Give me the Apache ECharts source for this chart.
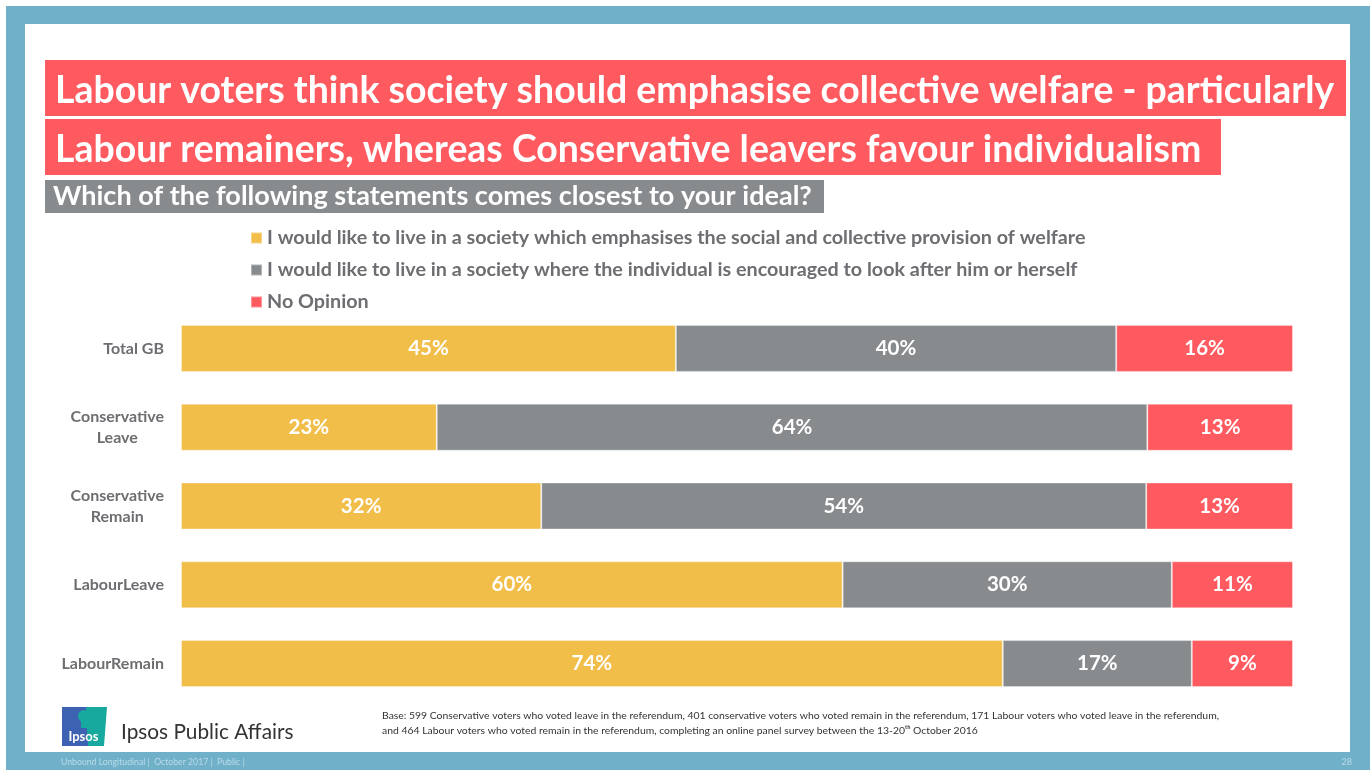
<!DOCTYPE html>
<html>
<head>
<meta charset="utf-8">
<title>Society: collective welfare vs individualism</title>
<script src="https://cdn.jsdelivr.net/npm/echarts@6/dist/echarts.min.js"></script>
<style>
  html, body { margin: 0; padding: 0; background: #ffffff; }
  #chart { width: 1370px; height: 770px; }
</style>
</head>
<body>
<div id="chart"></div>
<script>
// Voter groups (top to bottom)
const categories = ['Total GB', 'Conservative\nLeave', 'Conservative\nRemain', 'LabourLeave', 'LabourRemain'];

// Series names
const seriesNames = [
  'I would like to live in a society which emphasises the social and collective provision of welfare',
  'I would like to live in a society where the individual is encouraged to look after him or herself',
  'No Opinion'
];

// Shares of each group (%), unrounded
const welfare    = [44.5, 23.0, 32.4, 59.5, 73.9];
const individual = [39.6, 63.9, 54.4, 29.6, 17.0];
const noOpinion  = [15.9, 13.1, 13.2, 10.9, 9.1];

const titleLine1 = 'Labour voters think society should emphasise collective welfare - particularly';
const titleLine2 = 'Labour remainers, whereas Conservative leavers favour individualism';
const subtitle = 'Which of the following statements comes closest to your ideal?';
const baseNote = 'Base: 599 Conservative voters who voted leave in the referendum, 401 conservative voters who voted remain in the referendum, 171 Labour voters who voted leave in the referendum,\nand 464 Labour voters who voted remain in the referendum, completing an online panel survey between the 13-20\u1d57\u02b0 October 2016';
const footerNote = 'Unbound Longitudinal |  October 2017 |  Public |';

const FONT = 'Lato';
const COLORS = ['#F1BE4A', '#888B8D', '#FF5A5F'];
const FRAME = '#70B0C8';
const TEXT_GREY = '#6D6E71';

// size a line of text so that it spans the given width
function fitFont(text, weight, width) {
  const ctx = document.createElement('canvas').getContext('2d');
  ctx.font = weight + ' 100px ' + FONT;
  return 100 * width / ctx.measureText(text).width;
}
const titleSize = fitFont(titleLine1, 'bold', 1280);
const subSize = fitFont(subtitle, 'bold', 759);
const legendSize = fitFont(seriesNames[0], 'bold', 819);

const chart = echarts.init(document.getElementById('chart'), null, { renderer: 'canvas' });

function barSeries(name, data, color) {
  return {
    name: name,
    type: 'bar',
    stack: 'total',
    data: data,
    barWidth: 47,
    itemStyle: { color: color, borderColor: 'rgba(255,255,255,0.35)', borderWidth: 1 },
    label: {
      show: true,
      position: 'inside',
      color: '#ffffff',
      fontFamily: FONT,
      fontWeight: 'bold',
      fontSize: 20.5,
      formatter: p => Math.round(p.value) + '%'
    },
    emphasis: { disabled: true }
  };
}

const option = {
  backgroundColor: '#ffffff',
  animation: false,
  graphic: [
    // slide frame
    { type: 'rect', shape: { x: 6, y: 6, width: 1364, height: 764 }, style: { fill: FRAME }, z: -10 },
    { type: 'rect', shape: { x: 25, y: 24, width: 1325, height: 728 }, style: { fill: '#ffffff' }, z: -9 },
    // headline banners
    { type: 'rect', shape: { x: 45, y: 60, width: 1301, height: 56 }, style: { fill: '#FF5A5F' }, z: -5 },
    { type: 'rect', shape: { x: 45, y: 119, width: 1176, height: 56 }, style: { fill: '#FF5A5F' }, z: -5 },
    { type: 'rect', shape: { x: 45, y: 180, width: 779, height: 33 }, style: { fill: '#888B8D' }, z: -5 },
    { type: 'text', x: 55, y: 91, style: { text: titleLine1, fill: '#ffffff', font: 'bold ' + titleSize.toFixed(2) + 'px ' + FONT, textVerticalAlign: 'middle' } },
    { type: 'text', x: 55, y: 149.5, style: { text: titleLine2, fill: '#ffffff', font: 'bold ' + titleSize.toFixed(2) + 'px ' + FONT, textVerticalAlign: 'middle' } },
    { type: 'text', x: 53, y: 196, style: { text: subtitle, fill: '#ffffff', font: 'bold ' + subSize.toFixed(2) + 'px ' + FONT, textVerticalAlign: 'middle' } },
    // logo block
    { type: 'rect', shape: { x: 62, y: 707, width: 26, height: 39 }, style: { fill: '#3E62B2' } },
    { type: 'polygon', shape: { points: [[86, 707], [107, 707], [104, 746], [88, 746], [87, 730]] }, style: { fill: '#17A89E' } },
    { type: 'circle', shape: { cx: 84, cy: 716, r: 6 }, style: { fill: '#17A89E' } },
    { type: 'rect', shape: { x: 81, y: 720, width: 8, height: 8 }, style: { fill: '#17A89E' } },
    { type: 'text', x: 83.5, y: 737, style: { text: 'Ipsos', fill: '#ffffff', font: 'bold 13px ' + FONT, textAlign: 'center', textVerticalAlign: 'middle' } },
    { type: 'text', x: 121, y: 732, style: { text: 'Ipsos Public Affairs', fill: '#333333', font: '20.8px ' + FONT, textVerticalAlign: 'middle' } },
    // base note
    { type: 'text', x: 382, y: 723, style: { text: baseNote, fill: '#333333', font: '10.4px ' + FONT, lineHeight: 14.5, textVerticalAlign: 'middle' } },
    // footer strip
    { type: 'text', x: 61, y: 762, style: { text: footerNote, fill: '#B9DCEA', font: '8.7px ' + FONT, textVerticalAlign: 'middle' } },
    { type: 'text', x: 1352, y: 762, style: { text: '28', fill: '#B9DCEA', font: '9px ' + FONT, textAlign: 'right', textVerticalAlign: 'middle' } }
  ],
  legend: {
    orient: 'vertical',
    left: 250,
    top: 228,
    padding: 0,
    itemGap: 12,
    itemWidth: 11,
    itemHeight: 11,
    itemTextGap: 5,
    icon: 'rect',
    selectedMode: false,
    textStyle: { color: TEXT_GREY, fontFamily: FONT, fontWeight: 'bold', fontSize: legendSize, lineHeight: 20 },
    data: seriesNames
  },
  grid: { left: 181, right: 77, top: 309, bottom: 67, containLabel: false },
  xAxis: {
    type: 'value', min: 0, max: 100, show: false
  },
  yAxis: {
    type: 'category',
    inverse: true,
    data: categories,
    axisLine: { show: false },
    axisTick: { show: false },
    axisLabel: {
      margin: 17,
      formatter: v => v.split('\n').map(s => '{c|' + s + '}').join('\n'),
      rich: {
        c: { color: TEXT_GREY, fontFamily: FONT, fontWeight: 'bold', fontSize: 16, lineHeight: 21, align: 'center' }
      }
    }
  },
  series: [
    barSeries(seriesNames[0], welfare, COLORS[0]),
    barSeries(seriesNames[1], individual, COLORS[1]),
    barSeries(seriesNames[2], noOpinion, COLORS[2])
  ]
};

chart.setOption(option);
</script>
</body>
</html>
